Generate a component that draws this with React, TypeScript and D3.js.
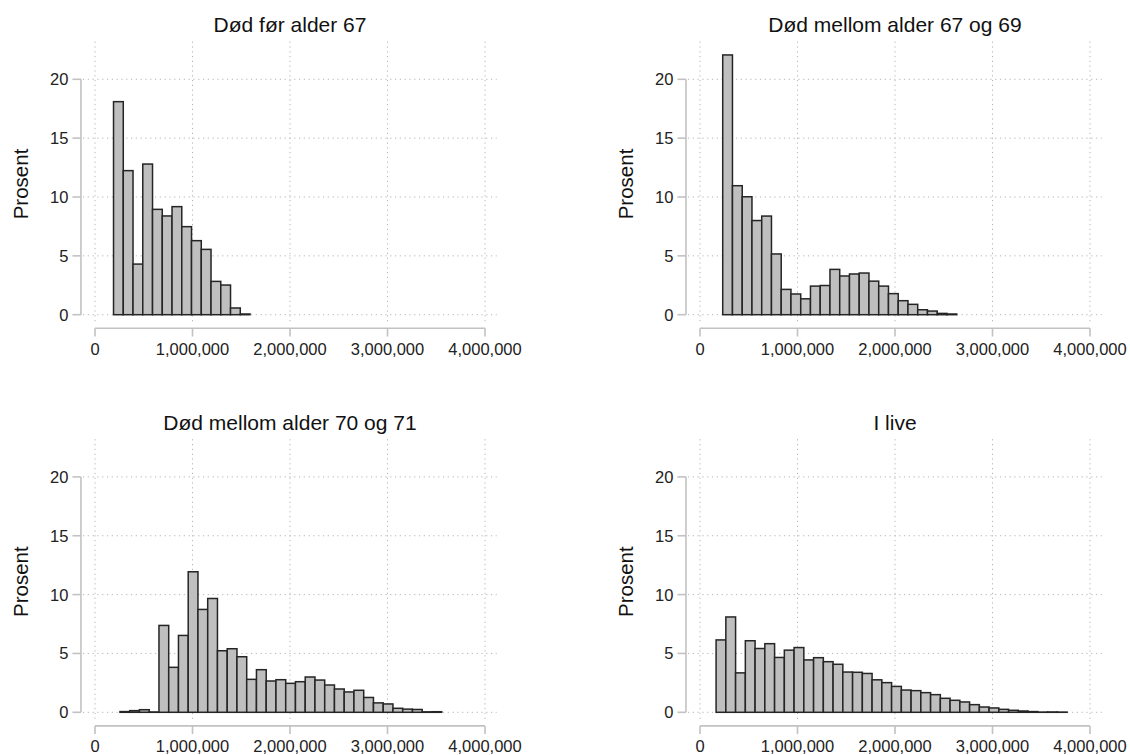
import React from "react";
import * as d3 from "d3";

// Histogram panels: share of people (percent) by income bins of 100,000
const panelTitles = [
  "Død før alder 67",
  "Død mellom alder 67 og 69",
  "Død mellom alder 70 og 71",
  "I live",
];

const binWidth = 100000;
const binStarts = [190000, 233000, 256000, 165000];

const pctBefore67 = [18.1, 12.24, 4.3, 12.8, 8.95, 8.39, 9.18, 7.48, 6.29, 5.55, 2.83, 2.52, 0.57, 0.06];

const pct67to69 = [
  22.07, 10.96, 10.02, 8.0, 8.38, 5.16, 2.15, 1.76, 1.35, 2.43, 2.48, 3.85,
  3.29, 3.46, 3.54, 2.85, 2.43, 1.79, 1.19, 0.88, 0.42, 0.31, 0.11, 0.06,
];

const pct70to71 = [
  0.06, 0.14, 0.22, 0.03, 7.38, 3.82, 6.53, 11.94, 8.74, 9.67, 5.23, 5.4, 4.72,
  2.8, 3.62, 2.66, 2.77, 2.46, 2.6, 3.0, 2.74, 2.32, 1.98, 1.73, 1.87, 1.26,
  0.8, 0.71, 0.34, 0.27, 0.24, 0.04, 0.05,
];

const pctAlive = [
  6.15, 8.1, 3.35, 6.08, 5.42, 5.83, 4.66, 5.28, 5.5, 4.45, 4.64, 4.3, 4.08,
  3.42, 3.4, 3.3, 2.76, 2.52, 2.2, 1.89, 1.84, 1.67, 1.5, 1.19, 1.02, 0.88,
  0.65, 0.45, 0.37, 0.25, 0.17, 0.11, 0.06, 0.02, 0.03, 0.02,
];

const panelValues = [pctBefore67, pct67to69, pct70to71, pctAlive];

const xTicks = [0, 1000000, 2000000, 3000000, 4000000];
const yTicks = [0, 5, 10, 15, 20];
const yLabel = "Prosent";

const fmt = d3.format(",");
const FONT = "'Liberation Sans', Arial, Helvetica, sans-serif";

const GRID = "#b4b4b4";
const AXIS = "#c2c2c2";
const TEXT = "#222";

function Panel({ index }: { index: number }) {
  const col = index % 2;
  const row = Math.floor(index / 2);
  const ox = col * 605;
  const oy = row * 397.6;

  const x = d3.scaleLinear().domain([0, 4000000]).range([95 + ox, 485 + ox]);
  const y = d3.scaleLinear().domain([0, 20]).range([314.7 + oy, 79.3 + oy]);

  const left = x(-144000);
  const right = x(4120000);
  const top = y(23.2);
  const bottom = y(-0.68);
  const xAxisY = bottom + 5.6;

  const start = binStarts[index];
  const values = panelValues[index];

  return (
    <g>
      <text
        x={(x(0) + x(4000000)) / 2}
        y={32 + oy}
        textAnchor="middle"
        fontSize={21}
        fill="#111"
      >
        {panelTitles[index]}
      </text>

      {/* grid */}
      {yTicks.map((t) => (
        <line
          key={"gy" + t}
          x1={left + 2}
          x2={right}
          y1={y(t)}
          y2={y(t)}
          stroke={GRID}
          strokeWidth={1}
          strokeDasharray="1.2 3.6"
        />
      ))}
      {xTicks.map((t) => (
        <line
          key={"gx" + t}
          x1={x(t)}
          x2={x(t)}
          y1={top}
          y2={bottom}
          stroke={GRID}
          strokeWidth={1}
          strokeDasharray="1.2 3.6"
        />
      ))}

      {/* bars */}
      {values.map((v, i) => {
        const x0 = x(start + i * binWidth);
        const x1 = x(start + (i + 1) * binWidth);
        return (
          <rect
            key={i}
            x={x0}
            y={y(v)}
            width={x1 - x0}
            height={y(0) - y(v)}
            fill="#bfbfbf"
            stroke="#252525"
            strokeWidth={1.5}
          />
        );
      })}

      {/* y axis */}
      <line x1={left} x2={left} y1={y(0)} y2={y(20)} stroke={AXIS} strokeWidth={1.6} />
      {yTicks.map((t) => (
        <g key={"yt" + t}>
          <line x1={left - 8.5} x2={left} y1={y(t)} y2={y(t)} stroke={AXIS} strokeWidth={1.6} />
          <text x={left - 12.5} y={y(t) + 5.9} textAnchor="end" fontSize={16.5} fill={TEXT}>
            {t}
          </text>
        </g>
      ))}
      <text
        transform={`translate(${28 + ox},${184 + oy}) rotate(-90)`}
        textAnchor="middle"
        fontSize={20.5}
        fill="#111"
      >
        {yLabel}
      </text>

      {/* x axis */}
      <line x1={x(0)} x2={x(4000000)} y1={xAxisY} y2={xAxisY} stroke={AXIS} strokeWidth={1.6} />
      {xTicks.map((t) => (
        <g key={"xt" + t}>
          <line x1={x(t)} x2={x(t)} y1={xAxisY} y2={xAxisY + 8.2} stroke={AXIS} strokeWidth={1.6} />
          <text x={x(t)} y={xAxisY + 26.2} textAnchor="middle" fontSize={16.5} fill={TEXT}>
            {fmt(t)}
          </text>
        </g>
      ))}
    </g>
  );
}

export default function App() {
  return (
    <svg
      width={1130}
      height={755}
      style={{ position: "absolute", left: 0, top: 0, background: "#fff" }}
      fontFamily={FONT}
    >
      <rect x={0} y={0} width={1130} height={755} fill="#fff" />
      {panelTitles.map((_, i) => (
        <Panel key={i} index={i} />
      ))}
    </svg>
  );
}
